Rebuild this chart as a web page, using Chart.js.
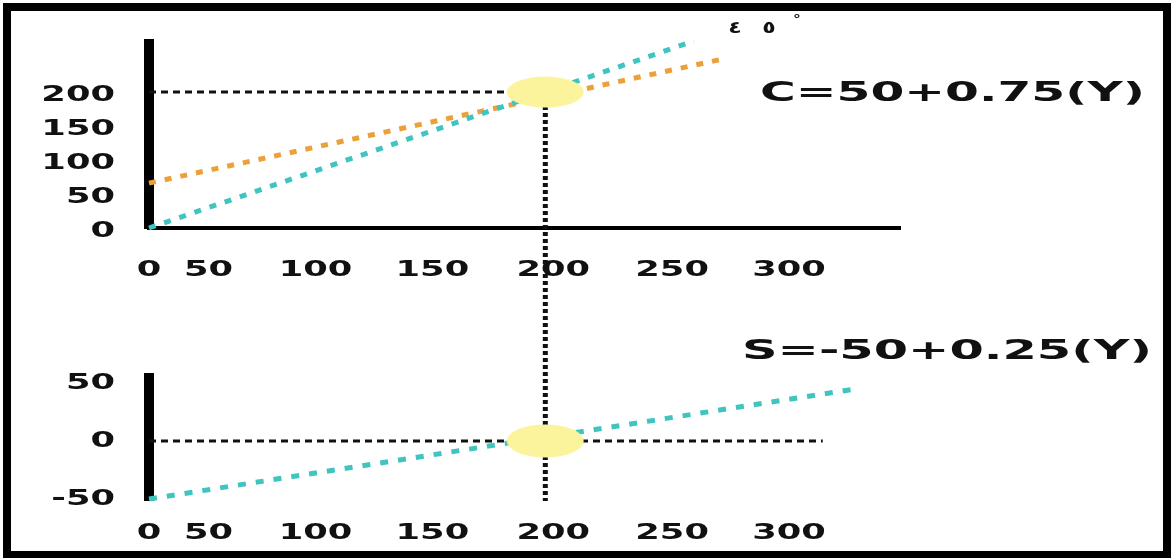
<!DOCTYPE html>
<html>
<head>
<meta charset="utf-8">
<script src="https://cdn.jsdelivr.net/npm/chart.js@4.4.1/dist/chart.umd.min.js"></script>
<style>
  body { margin: 0; background: #fff; }
  #wrap { position: relative; width: 1174px; height: 558px; overflow: hidden; }
  #frame { position: absolute; left: 3px; top: 3px; width: 1168px; height: 556px;
           border: 8px solid #000; box-sizing: border-box; pointer-events: none; }
</style>
</head>
<body>
<div id="wrap">
  <canvas id="chart"></canvas>
  <div id="frame"></div>
</div>
<script>
// tick labels, and where they sit along the income axis
var xTickAt     = [0, 30, 84, 143, 204, 264, 323];
var xTickLabels = ['0', '50', '100', '150', '200', '250', '300'];
var yTopTicks   = [0, 50, 100, 150, 200];
var yBotTicks   = [-50, 0, 50];

// 45 degree line (C = Y)
var lineY  = [0, 275];
var lineC  = [0, 275];
// consumption C = 50 + 0.75(Y)
var consY  = [0, 292];
var consC  = [66, 250];
// saving S = -50 + 0.25(Y)
var savY   = [0, 357];
var savS   = [-50, 45];
// dotted guides
var guideY = [0, 200];
var zeroY  = [0, 340];
var breakEven = 200;

var CYAN = '#3fc4c0';
var ORANGE = '#eca03a';
var YELLOW = '#fcf49c';
var FONT = '"DejaVu Sans", Verdana, sans-serif';

function pts(xs, ys) {
  return xs.map(function(v, i) { return { x: v, y: ys[i] }; });
}

function ellipse(rx, ry) {
  var c = document.createElement('canvas');
  c.width = rx * 2; c.height = ry * 2;
  var g = c.getContext('2d');
  g.fillStyle = YELLOW;
  g.beginPath();
  g.ellipse(rx, ry, rx - 0.5, ry - 0.5, 0, 0, Math.PI * 2);
  g.fill();
  return c;
}

// draws bold text stretched sideways like the slide
function wideText(ctx, text, x, y, size, sx, align) {
  ctx.save();
  ctx.font = 'bold ' + size + 'px ' + FONT;
  ctx.fillStyle = '#111';
  ctx.textAlign = align;
  ctx.textBaseline = 'middle';
  ctx.translate(x, y);
  ctx.scale(sx, 1);
  ctx.fillText(text, 0, 0);
  ctx.restore();
}

function fitText(ctx, text, left, width, y, size) {
  ctx.save();
  ctx.font = 'bold ' + size + 'px ' + FONT;
  var w = ctx.measureText(text).width;
  ctx.restore();
  wideText(ctx, text, left, y, size, width / w, 'left');
}

// put the two value axes one above the other
var placeY = {
  id: 'placeY',
  afterLayout: function(chart) {
    var a = chart.scales.y, b = chart.scales.y2;
    a.top = 44;  a.bottom = 228; a.height = a.bottom - a.top; a.configure();
    b.top = 378; b.bottom = 500; b.height = b.bottom - b.top; b.configure();
  }
};

var labels = {
  id: 'labels',
  beforeDatasetsDraw: function(chart) {
    var ctx = chart.ctx;
    var xs = chart.scales.x, ys = chart.scales.y, ys2 = chart.scales.y2;

    yTopTicks.forEach(function(v) {
      wideText(ctx, String(v), 115, ys.getPixelForValue(v) + 4, 21, 1.68, 'right');
    });
    yBotTicks.forEach(function(v) {
      wideText(ctx, String(v), 115, ys2.getPixelForValue(v) + 1, 21, 1.68, 'right');
    });
    xTickAt.forEach(function(v, i) {
      var px = xs.getPixelForValue(v);
      wideText(ctx, xTickLabels[i], px, 271, 21, 1.68, 'center');
      wideText(ctx, xTickLabels[i], px, 534, 21, 1.68, 'center');
    });

    // vertical guide at the break-even income, through both panels
    var vx = xs.getPixelForValue(breakEven);
    ctx.save();
    ctx.strokeStyle = '#111';
    ctx.lineWidth = 5;
    ctx.setLineDash([4, 3]);
    ctx.beginPath();
    ctx.moveTo(vx, ys.getPixelForValue(breakEven));
    ctx.lineTo(vx, ys2.getPixelForValue(-50) + 2);
    ctx.stroke();
    ctx.restore();
  },
  afterDraw: function(chart) {
    var ctx = chart.ctx;
    fitText(ctx, 'C=50+0.75(Y)', 760, 385, 94, 27);
    fitText(ctx, 'S=-50+0.25(Y)', 742, 410, 352, 27);
    // 45° mark, in Arabic-Indic digits, spread out as on the slide
    var mark = '٤٥°';
    var at = [735, 769, 797];
    var dy = [29, 29, 20];
    for (var i = 0; i < mark.length; i++) {
      wideText(ctx, mark[i], at[i], dy[i], i < 2 ? 17 : 12, 1.3, 'center');
    }
  }
};

var dashed = { pointRadius: 0, fill: false, clip: false, tension: 0 };

new Chart(document.getElementById('chart'), {
  type: 'line',
  data: {
    datasets: [
      { data: pts([breakEven], [breakEven]), yAxisID: 'y', order: 0, showLine: false, clip: false,
        pointStyle: ellipse(39, 16), pointRadius: 20 },
      { data: pts([breakEven], [0]), yAxisID: 'y2', order: 0, showLine: false, clip: false,
        pointStyle: ellipse(39, 17), pointRadius: 20 },
      Object.assign({ data: pts(lineY, lineC), yAxisID: 'y', order: 2,
        borderColor: CYAN, borderWidth: 5, borderDash: [7, 9] }, dashed),
      Object.assign({ data: pts(consY, consC), yAxisID: 'y', order: 2,
        borderColor: ORANGE, borderWidth: 5, borderDash: [7, 9] }, dashed),
      Object.assign({ data: pts(savY, savS), yAxisID: 'y2', order: 2,
        borderColor: CYAN, borderWidth: 5, borderDash: [8, 10] }, dashed),
      Object.assign({ data: pts(guideY, [breakEven, breakEven]), yAxisID: 'y', order: 3,
        borderColor: '#111', borderWidth: 3, borderDash: [7, 5] }, dashed),
      Object.assign({ data: pts(zeroY, [0, 0]), yAxisID: 'y2', order: 3,
        borderColor: '#111', borderWidth: 3, borderDash: [7, 5] }, dashed)
    ]
  },
  options: {
    responsive: true,
    maintainAspectRatio: false,
    animation: false,
    layout: { padding: { left: 149, right: 274, top: 44, bottom: 58 } },
    plugins: { legend: { display: false }, tooltip: { enabled: false } },
    scales: {
      x: {
        type: 'linear', min: 0, max: 379, position: { y: 0 },
        grid: { display: false, drawTicks: false },
        ticks: { display: false },
        border: { display: true, color: '#000', width: 4 },
        afterFit: function(s) { s.height = 0; }
      },
      y: {
        type: 'linear', position: 'left', min: 0, max: 270.6,
        grid: { display: false, drawTicks: false },
        ticks: { display: false },
        border: { display: true, color: '#000', width: 10 },
        afterFit: function(s) { s.width = 0; }
      },
      y2: {
        type: 'linear', position: 'left', min: -50.9, max: 54.3,
        grid: { display: false, drawTicks: false },
        ticks: { display: false },
        border: { display: true, color: '#000', width: 10 },
        afterFit: function(s) { s.width = 0; }
      }
    }
  },
  plugins: [placeY, labels]
});
</script>
</body>
</html>
